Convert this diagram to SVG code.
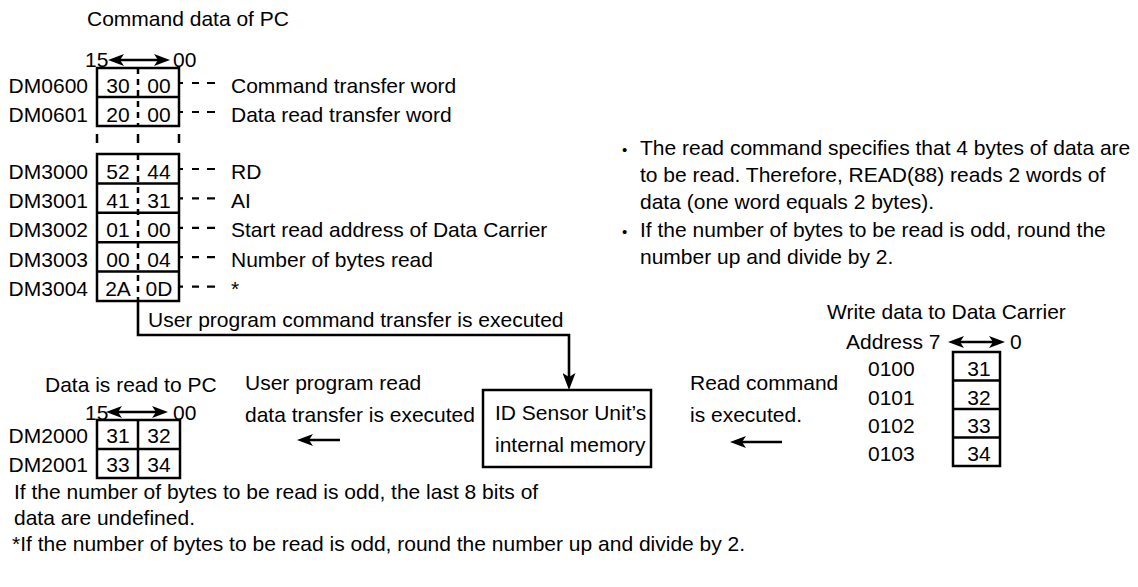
<svg xmlns="http://www.w3.org/2000/svg" width="1138" height="587" viewBox="0 0 1138 587">
<defs>
<style>
text{font-family:"Liberation Sans",Arial,Helvetica,sans-serif;font-size:21px;fill:#000}
.c{text-anchor:middle}
.e{text-anchor:end}
.box{fill:none;stroke:#000;stroke-width:2.5}
.ln{fill:none;stroke:#000;stroke-width:2.5}
.md{stroke:#000;stroke-width:2.5;stroke-dasharray:6 5}
.ld{stroke:#000;stroke-width:2.2;stroke-dasharray:4 9 7 8 8 100}
.ar{fill:none;stroke:#000;stroke-width:2.6}
.bul{font-size:15px}
</style>
<marker id="ah" viewBox="0 0 16 12" refX="8" refY="6" markerWidth="16" markerHeight="12" orient="auto-start-reverse" markerUnits="userSpaceOnUse">
<path d="M0,0 L16,6 L0,12 L4,6 Z" fill="#000"/>
</marker>
<marker id="ahL" viewBox="0 0 17 13" refX="9" refY="6.5" markerWidth="17" markerHeight="13" orient="auto" markerUnits="userSpaceOnUse">
<path d="M0,0 L17,6.5 L0,13 L4,6.5 Z" fill="#000"/>
</marker>
</defs>
<rect width="1138" height="587" fill="#fff"/>

<g id="command-data">
<text x="87" y="26">Command data of PC</text>
<text x="85" y="67">15</text>
<line class="ar" x1="116" y1="60" x2="162" y2="60" marker-start="url(#ah)" marker-end="url(#ah)"/>
<text x="173" y="67">00</text>
<rect class="box" x="97" y="68" width="82" height="58"/>
<line class="ln" x1="97" y1="97" x2="179" y2="97"/>
<line class="md" x1="138" y1="68" x2="138" y2="126"/>
<text class="e" x="88" y="92.5">DM0600</text>
<text class="e" x="88" y="121.5">DM0601</text>
<text class="c" x="118" y="92.5">30</text><text class="c" x="159" y="92.5">00</text>
<text class="c" x="118" y="121.5">20</text><text class="c" x="159" y="121.5">00</text>
<line class="ld" x1="179" y1="83" x2="216" y2="83"/>
<line class="ld" x1="179" y1="112" x2="216" y2="112"/>
<text x="231" y="92.5">Command transfer word</text>
<text x="231" y="121.5">Data read transfer word</text>
<line class="ln" x1="97" y1="134" x2="97" y2="143"/>
<line class="ln" x1="138" y1="134" x2="138" y2="143"/>
<line class="ln" x1="179" y1="134" x2="179" y2="143"/>
</g>

<g id="dm3000-block">
<rect class="box" x="97" y="154" width="82" height="147"/>
<line class="ln" x1="97" y1="183.4" x2="179" y2="183.4"/>
<line class="ln" x1="97" y1="212.8" x2="179" y2="212.8"/>
<line class="ln" x1="97" y1="242.2" x2="179" y2="242.2"/>
<line class="ln" x1="97" y1="271.6" x2="179" y2="271.6"/>
<line class="md" x1="138" y1="154" x2="138" y2="301"/>
<text class="e" x="88" y="178.5">DM3000</text>
<text class="e" x="88" y="207.9">DM3001</text>
<text class="e" x="88" y="237.3">DM3002</text>
<text class="e" x="88" y="266.7">DM3003</text>
<text class="e" x="88" y="296.1">DM3004</text>
<text class="c" x="118" y="178.5">52</text><text class="c" x="159" y="178.5">44</text>
<text class="c" x="118" y="207.9">41</text><text class="c" x="159" y="207.9">31</text>
<text class="c" x="118" y="237.3">01</text><text class="c" x="159" y="237.3">00</text>
<text class="c" x="118" y="266.7">00</text><text class="c" x="159" y="266.7">04</text>
<text class="c" x="118" y="296.1">2A</text><text class="c" x="159" y="296.1">0D</text>
<line class="ld" x1="179" y1="169" x2="216" y2="169"/>
<line class="ld" x1="179" y1="198.4" x2="216" y2="198.4"/>
<line class="ld" x1="179" y1="227.8" x2="216" y2="227.8"/>
<line class="ld" x1="179" y1="257.2" x2="216" y2="257.2"/>
<line class="ld" x1="179" y1="286.6" x2="216" y2="286.6"/>
<text x="231" y="178.5">RD</text>
<text x="231" y="207.9">AI</text>
<text x="231" y="237.3">Start read address of Data Carrier</text>
<text x="231" y="266.7">Number of bytes read</text>
<text x="231" y="296.1">*</text>
</g>

<g id="notes">
<text class="bul" x="622" y="155">•</text>
<text x="640" y="155">The read command specifies that 4 bytes of data are</text>
<text x="640" y="182">to be read. Therefore, READ(88) reads 2 words of</text>
<text x="640" y="209">data (one word equals 2 bytes).</text>
<text class="bul" x="622" y="237">•</text>
<text x="640" y="237">If the number of bytes to be read is odd, round the</text>
<text x="640" y="264">number up and divide by 2.</text>
</g>

<g id="id-sensor-memory">
<rect class="box" x="483" y="390" width="168" height="77"/>
<text x="495" y="420">ID Sensor Unit’s</text>
<text x="495" y="452">internal memory</text>
</g>

<g id="pc-read-data">
<text x="45" y="392">Data is read to PC</text>
<text x="85" y="420">15</text>
<line class="ar" x1="114" y1="412" x2="160" y2="412" marker-start="url(#ah)" marker-end="url(#ah)"/>
<text x="173" y="420">00</text>
<rect class="box" x="97" y="420" width="83" height="58"/>
<line class="ln" x1="97" y1="449" x2="180" y2="449"/>
<line class="ln" x1="138" y1="420" x2="138" y2="478"/>
<text class="e" x="88" y="443">DM2000</text>
<text class="e" x="88" y="472">DM2001</text>
<text class="c" x="118" y="443">31</text><text class="c" x="159" y="443">32</text>
<text class="c" x="118" y="472">33</text><text class="c" x="159" y="472">34</text>
</g>

<g id="carrier-data">
<text x="827" y="319">Write data to Data Carrier</text>
<text x="846" y="349">Address 7</text>
<line class="ar" x1="956" y1="342" x2="997" y2="342" marker-start="url(#ah)" marker-end="url(#ah)"/>
<text x="1010" y="349">0</text>
<rect class="box" x="953" y="352" width="47" height="114"/>
<line class="ln" x1="953" y1="380.5" x2="1000" y2="380.5"/>
<line class="ln" x1="953" y1="409" x2="1000" y2="409"/>
<line class="ln" x1="953" y1="437.5" x2="1000" y2="437.5"/>
<text x="868" y="376">0100</text>
<text x="868" y="405">0101</text>
<text x="868" y="433">0102</text>
<text x="868" y="461">0103</text>
<text class="c" x="979" y="376">31</text>
<text class="c" x="979" y="405">32</text>
<text class="c" x="979" y="433">33</text>
<text class="c" x="979" y="461">34</text>
</g>

<g id="connectors">
<path class="ar" d="M138,301 V335 H569 V382" marker-end="url(#ahL)"/>
<line class="ar" x1="340" y1="440" x2="305" y2="440" marker-end="url(#ah)"/>
<line class="ar" x1="782" y1="442" x2="738" y2="442" marker-end="url(#ah)"/>
</g>

<g id="labels">
<text x="148" y="327">User program command transfer is executed</text>
<text x="245" y="390">User program read</text>
<text x="245" y="422">data transfer is executed</text>
<text x="690" y="390">Read command</text>
<text x="690" y="422">is executed.</text>
<text x="14" y="499">If the number of bytes to be read is odd, the last 8 bits of</text>
<text x="14" y="525">data are undefined.</text>
<text x="12" y="551">*If the number of bytes to be read is odd, round the number up and divide by 2.</text>
</g>
</svg>
